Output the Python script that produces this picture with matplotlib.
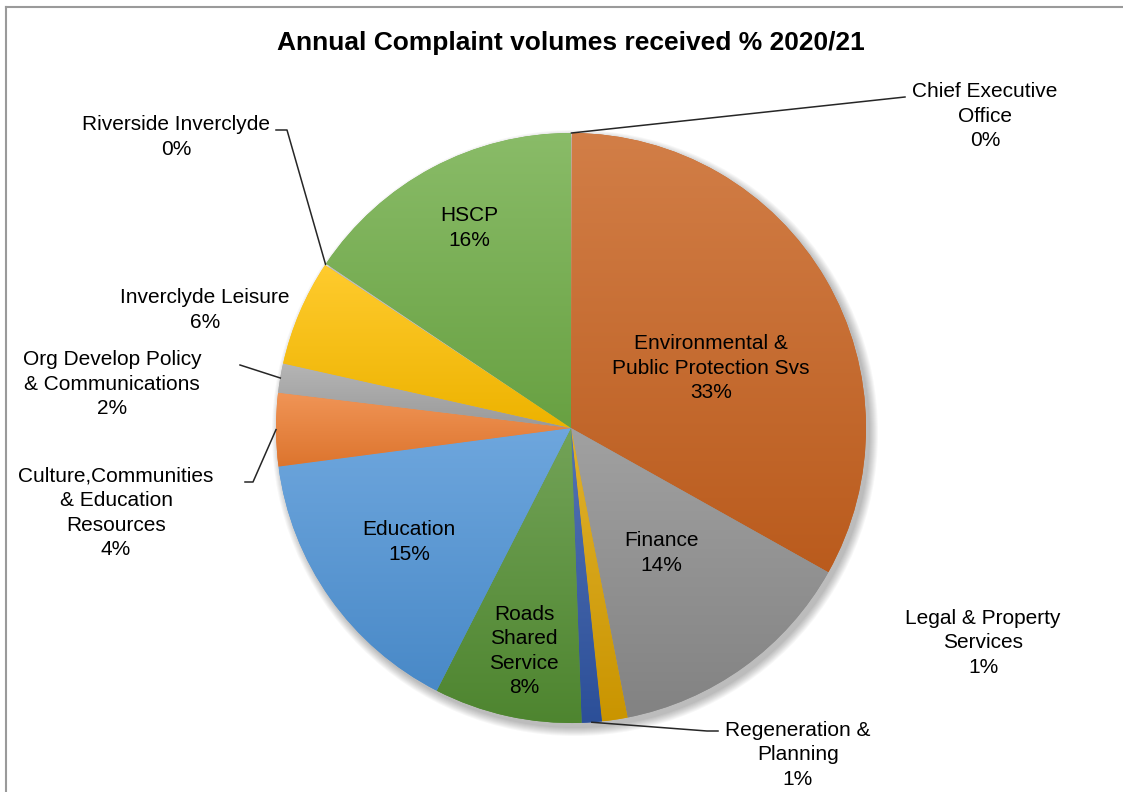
import numpy as np
import matplotlib
matplotlib.use('Agg')
import matplotlib.pyplot as plt
from matplotlib import rcParams
from matplotlib.colors import to_rgb
from matplotlib.patches import Circle

rcParams['font.family'] = ['Liberation Sans', 'DejaVu Sans']

# 数据（顺时针，从12点方向开始）
departments = ['Chief Executive\nOffice', 'Environmental &\nPublic Protection Svs', 'Finance',
               'Legal & Property\nServices', 'Regeneration &\nPlanning', 'Roads\nShared\nService',
               'Education', 'Culture,Communities\n& Education\nResources',
               'Org Develop Policy\n& Communications', 'Inverclyde Leisure',
               'Riverside Inverclyde', 'HSCP']
shares = [0.05, 33.1, 13.8, 1.4, 1.1, 8.1, 15.4, 4.0, 1.6, 5.8, 0.1, 15.6]
colors = ['#4472C4', '#C8621F', '#8C8C8C', '#D9A000', '#2F55A4', '#548F33',
          '#4E93D6', '#ED7D31', '#A5A5A5', '#FFC000', '#5B9BD5', '#70AD47']

# 标签位置（像素坐标，左上为原点）
label_pos = [(985, 116), (711, 368), (661, 553), (983, 643), (798, 755), (524, 651),
             (409, 542), (116, 513), (112, 384), (205, 310), (176, 137), (469, 228)]
# 引导线终点（像素坐标）
leaders = {0: [(905, 97)], 4: [(707, 731), (718, 731)], 7: [(253, 482), (245, 482)],
           8: [(240, 365)], 10: [(287, 130), (276, 130)]}

W, H = 1123, 792
cx, cy, R = 571, H - 428, 295

fig = plt.figure(figsize=(W / 100, H / 100), dpi=100)
ax = fig.add_axes([0, 0, 1, 1])

# 阴影
for i in range(9):
    ax.add_patch(Circle((cx + 4, cy - 5), R + i, color='k', alpha=0.03, lw=0, zorder=0))

wedges, _ = ax.pie(shares, colors=colors, startangle=90, counterclock=False,
                   center=(cx, cy), radius=R, wedgeprops=dict(linewidth=0))

# 渐变填充
g = np.linspace(0, 1, 256)[:, None, None]
for w, c, v in zip(wedges, colors, shares):
    if v < 0.5:
        w.set_visible(False)
        continue
    base = np.array(to_rgb(c))
    top = base + (1 - base) * 0.18
    bot = base * 0.93
    img = top * (1 - g) + bot * g
    ext = w.get_path().get_extents()
    im = ax.imshow(img, extent=[ext.x0, ext.x1, ext.y0, ext.y1], origin='upper',
                   aspect='auto', zorder=w.get_zorder() + 0.1, interpolation='bilinear')
    im.set_clip_path(w)

total = sum(shares)
for i, (name, v, (x, y)) in enumerate(zip(departments, shares, label_pos)):
    ax.text(x, H - y, f'{name}\n{round(v / total * 100):.0f}%', ha='center', va='center',
            fontsize=15, color='#000000', linespacing=1.36, zorder=5)
    if i in leaders:
        w = wedges[i]
        th = np.deg2rad((w.theta1 + w.theta2) / 2)
        xs = [cx + R * np.cos(th)] + [p[0] for p in leaders[i]]
        ys = [cy + R * np.sin(th)] + [H - p[1] for p in leaders[i]]
        ax.plot(xs, ys, color='#262626', lw=1.1, zorder=4)

ax.text(571, H - 43, 'Annual Complaint volumes received % 2020/21', ha='center', va='center',
        fontsize=19, fontweight='bold')

ax.set_xlim(0, W)
ax.set_ylim(0, H)
ax.set_aspect('equal')
ax.axis('off')

# 外边框
fig.add_artist(plt.Line2D([6 / W, 6 / W], [0, 1 - 7 / H], color='#9A9A9A', lw=1.5))
fig.add_artist(plt.Line2D([6 / W, 1], [1 - 7 / H, 1 - 7 / H], color='#9A9A9A', lw=1.5))

plt.savefig('out.png', dpi=100)
